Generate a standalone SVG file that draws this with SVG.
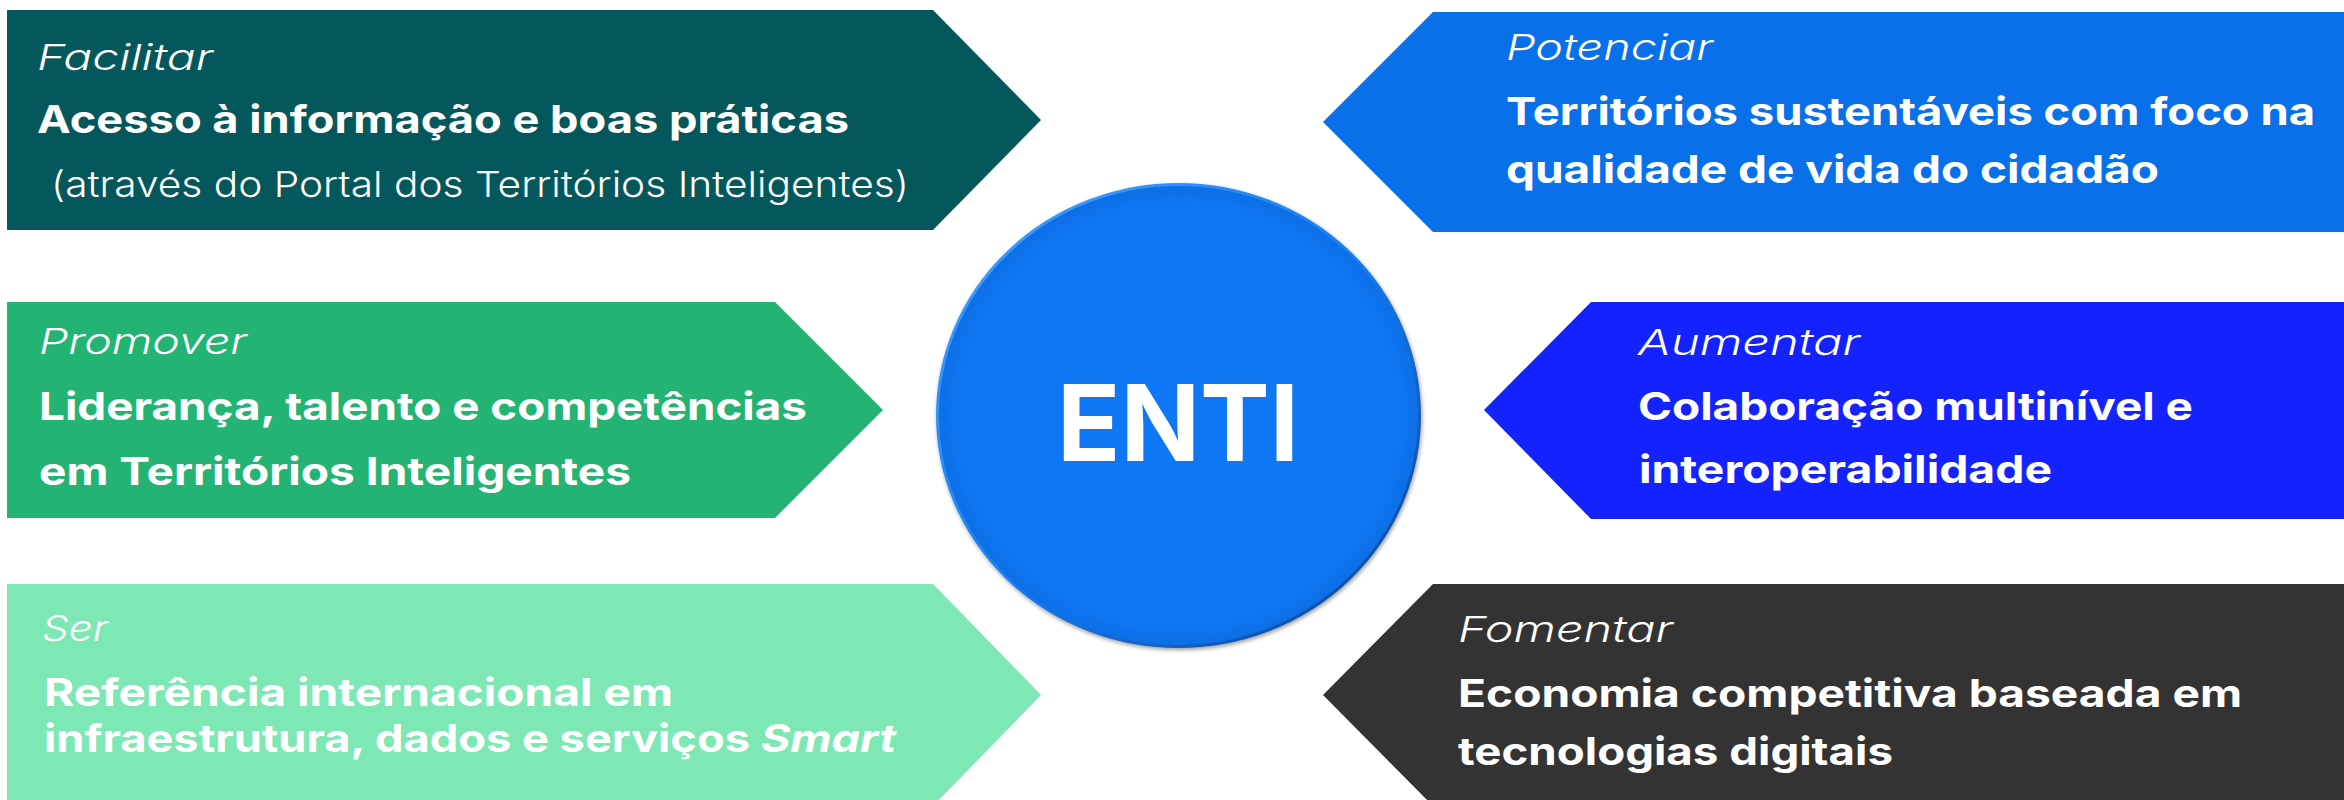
<svg xmlns="http://www.w3.org/2000/svg" width="2344" height="800" viewBox="0 0 2344 800">
  <style>
    .lbl { font-family: Inter, "Open Sans", "Liberation Sans", sans-serif; font-style: italic; font-weight: 300; font-size: 36px; fill: #ffffff; }
    .bold { font-family: Inter, "Open Sans", "Liberation Sans", sans-serif; font-weight: 700; font-size: 38px; fill: #ffffff; }
    .sub { font-family: Inter, "Open Sans", "Liberation Sans", sans-serif; font-weight: 300; font-size: 36px; fill: #ffffff; }
    .center { font-family: Inter, "Open Sans", "Liberation Sans", sans-serif; font-weight: 700; font-size: 106px; fill: #ffffff; }
  </style>
  <defs>
    <linearGradient id="rim" x1="0" y1="0" x2="1" y2="1">
      <stop offset="0" stop-color="#4aa2ff"/>
      <stop offset="0.5" stop-color="#1a7ef2"/>
      <stop offset="1" stop-color="#0a3f8a"/>
    </linearGradient>
    <radialGradient id="disc" cx="0.5" cy="0.5" r="0.5">
      <stop offset="0.9" stop-color="#0d77f6"/>
      <stop offset="1" stop-color="#0b6ee4"/>
    </radialGradient>
    <filter id="sh" x="-10%" y="-10%" width="120%" height="120%">
      <feGaussianBlur in="SourceAlpha" stdDeviation="2"/>
      <feOffset dx="1" dy="2"/>
      <feComponentTransfer><feFuncA type="linear" slope="0.4"/></feComponentTransfer>
      <feMerge><feMergeNode/><feMergeNode in="SourceGraphic"/></feMerge>
    </filter>
  </defs>
  <rect width="2344" height="800" fill="#ffffff"/>

  <g id="connectors"></g>

  <g id="node-facilitar">
    <polygon points="7,10 933,10 1041,120 933,230 7,230" fill="#04575b"/>
    <text class="lbl" x="37" y="70" textLength="176" lengthAdjust="spacingAndGlyphs">Facilitar</text>
    <text class="bold" x="37" y="133" textLength="812" lengthAdjust="spacingAndGlyphs">Acesso à informação e boas práticas</text>
    <text class="sub" x="51" y="197" textLength="858" lengthAdjust="spacingAndGlyphs">(através do Portal dos Territórios Inteligentes)</text>
  </g>

  <g id="node-potenciar">
    <polygon points="1323,122 1433,12 2344,12 2344,232 1433,232" fill="#0870e8"/>
    <text class="lbl" x="1506" y="60" textLength="207" lengthAdjust="spacingAndGlyphs">Potenciar</text>
    <text class="bold" x="1506" y="125" textLength="809" lengthAdjust="spacingAndGlyphs">Territórios sustentáveis com foco na</text>
    <text class="bold" x="1506" y="183" textLength="653" lengthAdjust="spacingAndGlyphs">qualidade de vida do cidadão</text>
  </g>

  <g id="node-promover">
    <polygon points="7,302 775,302 883,410 775,518 7,518" fill="#23b373"/>
    <text class="lbl" x="39" y="354" textLength="208" lengthAdjust="spacingAndGlyphs">Promover</text>
    <text class="bold" x="39" y="420" textLength="768" lengthAdjust="spacingAndGlyphs">Liderança, talento e competências</text>
    <text class="bold" x="39" y="485" textLength="592" lengthAdjust="spacingAndGlyphs">em Territórios Inteligentes</text>
  </g>

  <g id="node-aumentar">
    <polygon points="1484,410 1591,302 2344,302 2344,519 1591,519" fill="#1423fe"/>
    <text class="lbl" x="1638" y="355" textLength="222" lengthAdjust="spacingAndGlyphs">Aumentar</text>
    <text class="bold" x="1638" y="420" textLength="555" lengthAdjust="spacingAndGlyphs">Colaboração multinível e</text>
    <text class="bold" x="1639" y="483" textLength="413" lengthAdjust="spacingAndGlyphs">interoperabilidade</text>
  </g>

  <g id="node-ser">
    <polygon points="7,584 933,584 1041,695 933,806 7,806" fill="#7de8b3"/>
    <text class="lbl" x="42" y="641" textLength="66" lengthAdjust="spacingAndGlyphs">Ser</text>
    <text class="bold" x="44" y="706" textLength="629" lengthAdjust="spacingAndGlyphs">Referência internacional em</text>
    <text class="bold" x="44" y="752" textLength="852" lengthAdjust="spacingAndGlyphs">infraestrutura, dados e serviços <tspan font-style="italic">Smart</tspan></text>
  </g>

  <g id="node-fomentar">
    <polygon points="1323,695 1433,584 2344,584 2344,806 1433,806" fill="#333333"/>
    <text class="lbl" x="1458" y="642" textLength="215" lengthAdjust="spacingAndGlyphs">Fomentar</text>
    <text class="bold" x="1458" y="707" textLength="784" lengthAdjust="spacingAndGlyphs">Economia competitiva baseada em</text>
    <text class="bold" x="1458" y="765" textLength="435" lengthAdjust="spacingAndGlyphs">tecnologias digitais</text>
  </g>

  <g id="node-enti">
    <ellipse cx="1178.5" cy="415.5" rx="241" ry="231" fill="url(#disc)" stroke="url(#rim)" stroke-width="3" filter="url(#sh)"/>
    <text class="center" x="1057" y="461" textLength="242" lengthAdjust="spacingAndGlyphs">ENTI</text>
  </g>
</svg>
